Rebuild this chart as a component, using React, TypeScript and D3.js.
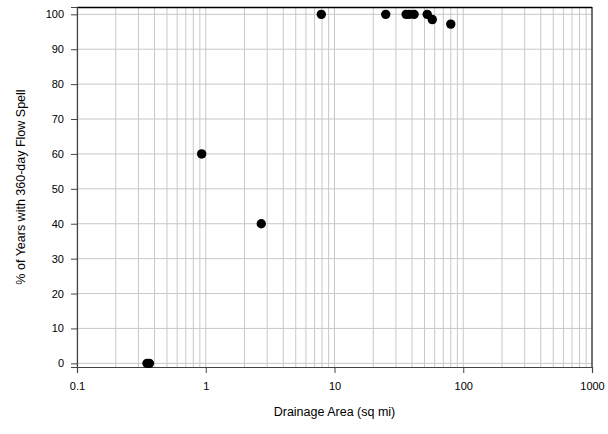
import React, { useEffect, useRef } from 'react'
import * as d3 from 'd3'

// drainage area (sq mi) and % of years with 360-day flow spell
const areas = [0.35, 0.365, 0.93, 2.7, 7.9, 25, 36, 38, 41.5, 52.5, 57.5, 80]
const percents = [0, 0, 60, 40, 100, 100, 100, 100, 100, 100, 98.5, 97.2]
const xTicks = [0.1, 1, 10, 100, 1000]
const yTicks = [0, 10, 20, 30, 40, 50, 60, 70, 80, 90, 100]

const width = 608
const height = 434
const margin = { top: 7, right: 16, bottom: 67, left: 77 }

export default function App() {
    const ref = useRef<SVGSVGElement>(null)

    useEffect(() => {
        const svg = d3.select(ref.current)
        svg.selectAll('*').remove()

        const w = width - margin.left - margin.right
        const h = height - margin.top - margin.bottom

        const x = d3.scaleLog().domain([0.1, 1000]).range([0, w])
        const y = d3.scaleLinear().domain([-1.05, 102.1]).range([h, 0])

        const g = svg.append('g').attr('transform', `translate(${margin.left},${margin.top})`)

        // grid: major + minor on x, major on y
        const minor: number[] = []
        for (let p = -1; p < 3; p++) {
            for (let k = 1; k <= 9; k++) minor.push(k * Math.pow(10, p))
        }
        minor.push(1000)

        g.append('g')
            .selectAll('line')
            .data(minor)
            .join('line')
            .attr('x1', d => x(d))
            .attr('x2', d => x(d))
            .attr('y1', 0)
            .attr('y2', h)
            .attr('stroke', '#c8c8c8')
            .attr('stroke-width', 1)

        g.append('g')
            .selectAll('line')
            .data(yTicks)
            .join('line')
            .attr('x1', 0)
            .attr('x2', w)
            .attr('y1', d => y(d))
            .attr('y2', d => y(d))
            .attr('stroke', '#c8c8c8')
            .attr('stroke-width', 1)

        // frame: top and right black, left/bottom axes dark gray
        g.append('line').attr('x1', 0).attr('x2', w).attr('y1', 0.5).attr('y2', 0.5)
            .attr('stroke', '#000').attr('stroke-width', 1.5)
        g.append('line').attr('x1', w).attr('x2', w).attr('y1', 0).attr('y2', h)
            .attr('stroke', '#000').attr('stroke-width', 1)

        // axes
        const xAxis = g.append('g')
            .attr('transform', `translate(0,${h})`)
            .call(d3.axisBottom(x).tickValues(xTicks).tickFormat(d => String(d)).tickSize(6).tickPadding(9))
        const yAxis = g.append('g')
            .call(d3.axisLeft(y).tickValues(yTicks).tickSize(6).tickPadding(7))

        for (const a of [xAxis, yAxis]) {
            a.select('.domain').attr('stroke', '#444').attr('stroke-width', 1.2)
            a.selectAll('.tick line').attr('stroke', '#444')
            a.selectAll('text')
                .attr('fill', '#000')
                .attr('font-family', 'Liberation Sans, Arial, sans-serif')
                .attr('font-size', 11)
        }

        // points
        g.append('g')
            .selectAll('circle')
            .data(areas.map((a, i) => ({ a, p: percents[i] })))
            .join('circle')
            .attr('cx', d => x(d.a))
            .attr('cy', d => y(d.p))
            .attr('r', 4.7)
            .attr('fill', '#000')

        // axis titles
        svg.append('text')
            .attr('x', margin.left + w / 2)
            .attr('y', 416)
            .attr('text-anchor', 'middle')
            .attr('font-family', 'Liberation Sans, Arial, sans-serif')
            .attr('font-size', 12.5)
            .text('Drainage Area (sq mi)')

        svg.append('text')
            .attr('transform', `translate(25,${margin.top + h / 2}) rotate(-90)`)
            .attr('text-anchor', 'middle')
            .attr('font-family', 'Liberation Sans, Arial, sans-serif')
            .attr('font-size', 12.5)
            .text('% of Years with 360-day Flow Spell')
    }, [])

    return (
        <svg ref={ref} width={width} height={height}
            style={{ position: 'absolute', left: 0, top: 0, background: '#fff' }} />
    )
}
